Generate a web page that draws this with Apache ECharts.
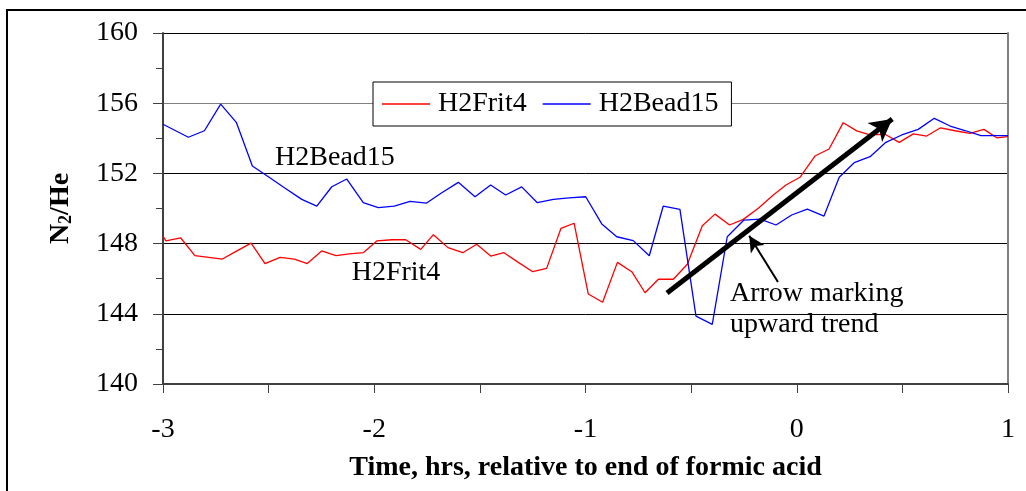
<!DOCTYPE html>
<html>
<head>
<meta charset="utf-8">
<script src="https://cdn.jsdelivr.net/npm/echarts@6/dist/echarts.min.js"></script>
<style>html,body{margin:0;padding:0;background:#fff;}#c{width:1026px;height:491px;}</style>
</head>
<body>
<div id="c"></div>
<script>
// ---- data (hours relative to end of formic acid, N2/He ratio) ----
const redX = [-3.0,-2.986,-2.916,-2.849,-2.784,-2.719,-2.652,-2.583,-2.517,-2.446,-2.378,-2.317,-2.249,-2.181,-2.118,-2.052,-1.988,-1.917,-1.851,-1.780,-1.720,-1.651,-1.581,-1.515,-1.449,-1.386,-1.318,-1.250,-1.184,-1.116,-1.054,-0.987,-0.919,-0.849,-0.781,-0.718,-0.655,-0.584,-0.518,-0.447,-0.387,-0.318,-0.253,-0.182,-0.111,-0.051,0.015,0.086,0.153,0.220,0.284,0.347,0.418,0.485,0.552,0.615,0.681,0.749,0.820,0.886,0.947,1.0];
const redY = [148.43,148.15,148.32,147.31,147.22,147.12,147.57,148.03,146.86,147.22,147.12,146.86,147.58,147.31,147.41,147.48,148.15,148.22,148.22,147.67,148.51,147.77,147.48,147.96,147.29,147.48,146.93,146.40,146.59,148.87,149.16,145.13,144.66,146.93,146.40,145.20,145.97,145.97,146.82,149.02,149.68,149.06,149.38,150.01,150.77,151.34,151.78,152.99,153.39,154.89,154.42,154.19,154.23,153.77,154.25,154.13,154.60,154.43,154.28,154.51,154.03,154.09];
const blueX = [-3.0,-2.880,-2.804,-2.727,-2.653,-2.577,-2.503,-2.427,-2.343,-2.272,-2.201,-2.130,-2.052,-1.981,-1.905,-1.831,-1.752,-1.684,-1.602,-1.523,-1.449,-1.378,-1.302,-1.228,-1.152,-1.078,-0.999,-0.923,-0.852,-0.774,-0.698,-0.632,-0.553,-0.477,-0.400,-0.329,-0.250,-0.173,-0.098,-0.024,0.050,0.129,0.201,0.272,0.347,0.422,0.497,0.575,0.651,0.726,0.800,0.872,0.947,1.0];
const blueY = [154.80,154.06,154.43,155.95,154.91,152.42,151.82,151.20,150.52,150.14,151.24,151.68,150.33,150.05,150.14,150.41,150.31,150.87,151.49,150.67,151.34,150.77,151.23,150.33,150.52,150.60,150.67,149.12,148.39,148.17,147.31,150.14,149.95,143.87,143.40,148.39,149.34,149.40,149.06,149.63,149.97,149.57,151.78,152.61,152.95,153.77,154.19,154.51,155.14,154.70,154.43,154.15,154.15,154.15];
const seriesNames = ['H2Frit4', 'H2Bead15'];
const yTicks = [140, 144, 148, 152, 156, 160];
const xTicks = [-3, -2, -1, 0, 1];
// annotation anchors in data units
const trendArrow = [[-0.614, 145.19], [0.452, 155.10]];
const noteArrow = [[-0.089, 145.81], [-0.225, 148.45]];
const noteText = ['Arrow marking', 'upward trend'];
const noteAnchor = [-0.316, 144.27];
const bLabelAnchor = [-2.186, 152.88];
const fLabelAnchor = [-1.897, 146.32];

const FONT = 'Liberation Serif, Times New Roman, serif';
const zip = (xs, ys) => xs.map((x, i) => [x, ys[i]]);

const chart = echarts.init(document.getElementById('c'), null, {renderer: 'canvas'});
chart.setOption({
  animation: false,
  backgroundColor: '#fff',
  textStyle: {fontFamily: FONT, color: '#000'},
  graphic: [{
    type: 'rect', silent: true, z: -10,
    shape: {x: 7, y: 10, width: 1060, height: 520},
    style: {fill: 'none', stroke: '#000', lineWidth: 2}
  }],
  grid: {left: 163, right: 18, top: 33, bottom: 107, containLabel: false},
  legend: {
    data: seriesNames,
    left: 373, top: 82,
    padding: [8, 13, 8, 9],
    icon: 'rect',
    itemGap: 16, itemWidth: 48, itemHeight: 1.3,
    borderColor: '#000', borderWidth: 1, backgroundColor: '#fff',
    textStyle: {fontFamily: FONT, fontSize: 28, color: '#000', padding: [0, 0, 0, 3]}
  },
  xAxis: {
    type: 'value', min: xTicks[0], max: xTicks[xTicks.length - 1], interval: 1,
    name: 'Time, hrs, relative to end of formic acid',
    nameLocation: 'middle', nameGap: 70,
    nameTextStyle: {fontFamily: FONT, fontSize: 28, fontWeight: 'bold', color: '#000'},
    axisLine: {show: true, onZero: false, lineStyle: {color: '#404040', width: 2}},
    axisTick: {show: true, length: 9, lineStyle: {color: '#404040', width: 1}},
    minorTick: {show: true, splitNumber: 2, length: 9, lineStyle: {color: '#404040', width: 1}},
    axisLabel: {fontFamily: FONT, fontSize: 28, color: '#000', margin: 32},
    splitLine: {show: false}
  },
  yAxis: [{
    type: 'value', min: yTicks[0], max: yTicks[yTicks.length - 1], interval: 4,
    name: 'N{s|2}/He', nameLocation: 'middle', nameGap: 88, nameRotate: 90,
    nameTextStyle: {fontFamily: FONT, fontSize: 28, fontWeight: 'bold', color: '#000',
      rich: {s: {fontFamily: FONT, fontSize: 18, fontWeight: 'bold', color: '#000', verticalAlign: 'bottom', lineHeight: 26}}},
    axisLine: {show: true, onZero: false, lineStyle: {color: '#404040', width: 2}},
    axisTick: {show: true, length: 10, lineStyle: {color: '#404040', width: 1}},
    minorTick: {show: true, splitNumber: 2, length: 7, lineStyle: {color: '#404040', width: 1}},
    axisLabel: {fontFamily: FONT, fontSize: 28, color: '#000', margin: 25},
    splitLine: {show: true, lineStyle: {color: ['#000', '#000', '#000', '#000', '#808080', '#000'], width: 1}}
  }, {
    type: 'value', position: 'right', min: yTicks[0], max: yTicks[yTicks.length - 1], interval: 4,
    axisLine: {show: true, onZero: false, lineStyle: {color: '#808080', width: 2}},
    axisTick: {show: false}, axisLabel: {show: false}, splitLine: {show: false}
  }],
  series: [{
    name: seriesNames[0], type: 'line', yAxisIndex: 0,
    data: zip(redX, redY), symbol: 'none', showSymbol: false,
    lineStyle: {color: '#ff0000', width: 1.3}, itemStyle: {color: '#ff0000'},
    markPoint: {
      silent: true, symbol: 'circle', symbolSize: 0,
      itemStyle: {color: 'rgba(0,0,0,0)'},
      data: [
        {coord: bLabelAnchor, value: 'H2Bead15',
          label: {show: true, position: 'inside', formatter: seriesNames[1], fontFamily: FONT, fontSize: 28, color: '#000'}},
        {coord: fLabelAnchor, value: 'H2Frit4',
          label: {show: true, position: 'inside', formatter: seriesNames[0], fontFamily: FONT, fontSize: 28, color: '#000'}},
        {coord: noteAnchor, value: 'note',
          label: {show: true, position: 'right', distance: 0, align: 'left', verticalAlign: 'middle',
            formatter: noteText.join('\n'), fontFamily: FONT, fontSize: 28, lineHeight: 31, color: '#000'}}
      ]
    },
    markLine: {
      silent: true, animation: false,
      label: {show: false},
      data: [
        [{coord: trendArrow[0], symbol: 'none', lineStyle: {color: '#000', width: 5, type: 'solid'}},
         {coord: trendArrow[1], symbol: 'arrow', symbolSize: [18, 22]}],
        [{coord: noteArrow[0], symbol: 'none', lineStyle: {color: '#000', width: 2, type: 'solid'}},
         {coord: noteArrow[1], symbol: 'arrow', symbolSize: [12, 16]}]
      ]
    }
  }, {
    name: seriesNames[1], type: 'line', yAxisIndex: 0,
    data: zip(blueX, blueY), symbol: 'none', showSymbol: false,
    lineStyle: {color: '#0000ff', width: 1.3}, itemStyle: {color: '#0000ff'}
  }]
});
</script>
</body>
</html>
